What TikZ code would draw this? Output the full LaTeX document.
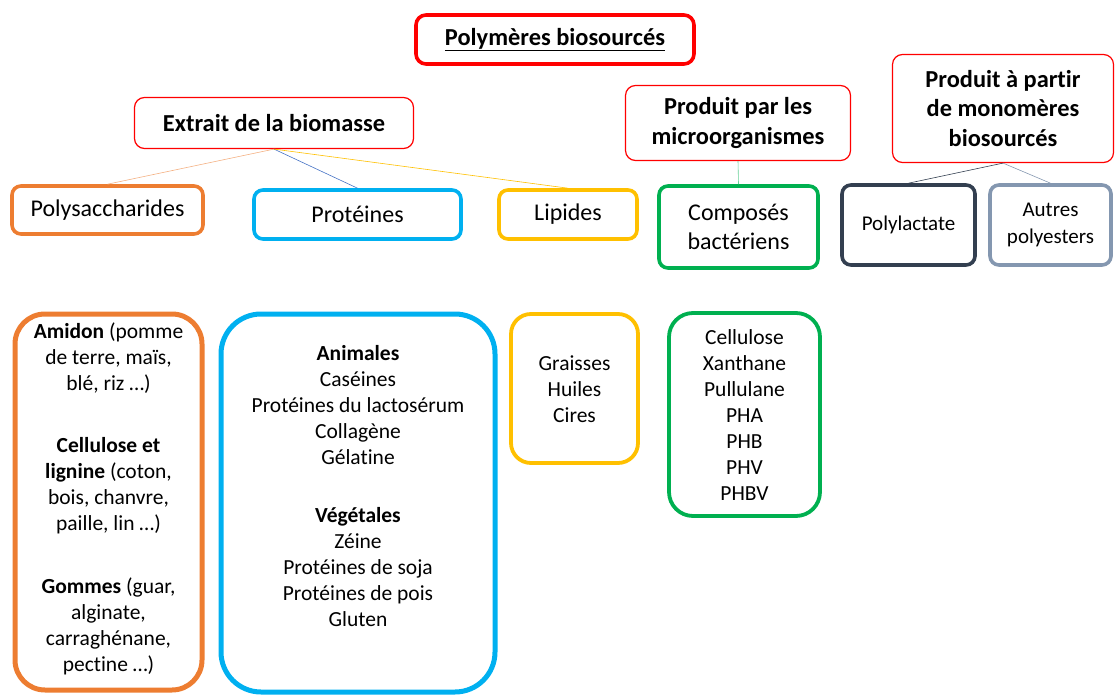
\documentclass[tikz,border=0pt]{standalone}
\usepackage{fontspec}
\setmainfont[Ligatures=NoCommon]{Carlito}
\definecolor{cred}{HTML}{FF0000}
\definecolor{corange}{HTML}{ED7D31}
\definecolor{cblue}{HTML}{00B0F0}
\definecolor{cyellow}{HTML}{FFC000}
\definecolor{cgreen}{HTML}{00B050}
\definecolor{cnavy}{HTML}{333F50}
\definecolor{cgrey}{HTML}{8497B0}
\definecolor{clink}{HTML}{4472C4}
\definecolor{clorange}{HTML}{F4B183}
\begin{document}
\begin{tikzpicture}[x=1pt,y=-1pt,
  tbox/.style={draw=cred, line width=1.2pt, rounded corners=10pt, align=center, inner sep=0pt,
    font=\bfseries\fontsize{24.4}{29.5}\selectfont},
  cbox/.style={line width=3.6pt, rounded corners=9pt, align=center, inner sep=0pt,
    font=\fontsize{24}{29}\selectfont},
  lbox/.style={line width=5pt, inner sep=0pt},
  ltext/.style={align=center, inner sep=0pt, font=\fontsize{21.5}{26}\selectfont},
  link/.style={line width=0.6pt}
]
\useasboundingbox (0,0) rectangle (1115,695);

% top level
\node[tbox, line width=3.6pt, minimum width=278pt, minimum height=49pt] (title) at (555,39.5)
  {\underline{Polymères biosourcés}};
\node[tbox, minimum width=279pt, minimum height=51pt] (extrait) at (274,123) {Extrait de la biomasse};
\node[tbox, minimum width=225pt, minimum height=75pt] (micro) at (738,123) {Produit par les\\microorganismes};
\node[tbox, minimum width=221pt, minimum height=108pt] (mono) at (1003,108.5) {Produit à partir\\de monomères\\biosourcés};

% categories
\node[cbox, draw=corange, minimum width=191pt, minimum height=48pt] (polysac) at (107.5,210) {Polysaccharides};
\node[cbox, draw=cblue, minimum width=207pt, minimum height=49pt] (prot) at (357.5,214.5) {Protéines};
\node[cbox, draw=cyellow, minimum width=138pt, minimum height=49pt] (lip) at (568,214.5) {Lipides};
\node[cbox, draw=cgreen, minimum width=159pt, minimum height=82pt] (comp) at (738.5,227) {Composés\\bactériens};
\node[cbox, draw=cnavy, minimum width=133pt, minimum height=80pt, font=\fontsize{21}{27}\selectfont] (pla) at (908.5,225) {Polylactate};
\node[cbox, draw=cgrey, minimum width=121pt, minimum height=80pt, font=\fontsize{21}{27}\selectfont] (autres) at (1050.5,225) {Autres\\polyesters};

% connectors
\draw[link, draw=clorange] (extrait.south) -- (polysac.north);
\draw[link, draw=clink] (extrait.south) -- (prot.north);
\draw[link, draw=cyellow] (extrait.south) -- (lip.north);
\draw[link, draw=cgreen!60] (micro.south) -- (comp.north);
\draw[link, draw=cnavy] (mono.south) -- (pla.north);
\draw[link, draw=cgrey] (mono.south) -- (autres.north);

% content boxes
\node[lbox, draw=corange, rounded corners=30pt, minimum width=187pt, minimum height=376pt] (amidonbox) at (108.5,502) {};
\node[lbox, draw=cblue, rounded corners=40pt, minimum width=274pt, minimum height=378pt] (protbox) at (358,503) {};
\node[lbox, line width=3.8pt, draw=cyellow, rounded corners=20pt, minimum width=127pt, minimum height=149pt] (lipbox) at (574.5,388.5) {};
\node[lbox, line width=3.8pt, draw=cgreen, rounded corners=24pt, minimum width=151pt, minimum height=203pt] (compbox) at (744.5,414.5) {};

\node[ltext] (amidontext) at (108.5,499) {\textbf{Amidon} (pomme\\de terre, maïs,\\blé, riz …)\\[36pt]
  \textbf{Cellulose et}\\\textbf{lignine} (coton,\\bois, chanvre,\\paille, lin …)\\[37pt]
  \textbf{Gommes} (guar,\\alginate,\\carraghénane,\\pectine …)};
\node[ltext] (prottext) at (358,486.5) {\textbf{Animales}\\Caséines\\Protéines du lactosérum\\Collagène\\Gélatine\\[32pt]
  \textbf{Végétales}\\Zéine\\Protéines de soja\\Protéines de pois\\Gluten};
\node[ltext] (liptext) at (574.5,389) {Graisses\\Huiles\\Cires};
\node[ltext] (comptext) at (744.5,415) {Cellulose\\Xanthane\\Pullulane\\PHA\\PHB\\PHV\\PHBV};
\end{tikzpicture}
\end{document}
